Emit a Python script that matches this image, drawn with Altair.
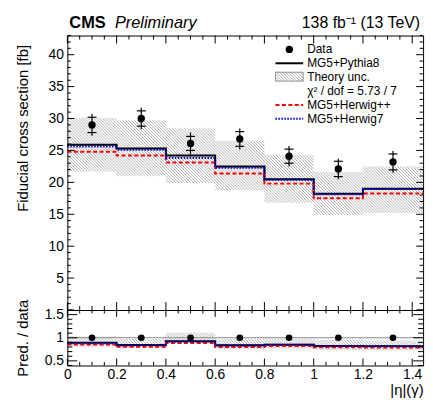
import altair as alt
import numpy as np
import pandas as pd

FONT = "Liberation Sans"

# photon |eta| binning and the positions of the data points
edges = [0.0, 0.2, 0.4, 0.6, 0.8, 1.0, 1.2, 1.4442]
centres = [0.1, 0.3, 0.5, 0.7, 0.9, 1.1, 1.322]

# measured fiducial cross section [fb] with statistical and total uncertainty
data_xs = [29.0, 30.0, 26.1, 26.8, 24.1, 22.1, 23.2]
data_stat = [1.2, 1.2, 1.1, 1.15, 1.1, 1.2, 1.25]
data_tot = [1.7, 1.7, 1.7, 1.65, 1.6, 1.6, 1.7]

# predictions [fb]
mg5_pythia8 = [25.9, 25.3, 24.2, 22.5, 20.5, 18.2, 19.0]
mg5_herwig7 = [25.6, 25.1, 23.8, 22.3, 20.4, 18.15, 18.95]
mg5_herwigpp = [24.8, 24.2, 23.1, 21.4, 19.8, 17.5, 18.25]

# theory uncertainty envelope of MG5+Pythia8 [fb]
theory_up = [30.1, 29.7, 28.5, 26.5, 24.3, 21.6, 22.5]
theory_down = [21.7, 21.0, 19.9, 18.8, 16.8, 14.9, 15.2]

# theory uncertainty envelope shown in the ratio panel
ratio_band_up = [1.03, 0.97, 1.11, 0.97, 0.98, 0.96, 0.94]
ratio_band_down = [0.80, 0.78, 0.90, 0.76, 0.77, 0.74, 0.73]

# axis labels
y_labels = [5, 10, 15, 20, 25, 30, 35, 40]
r_labels = [0.5, 1.0, 1.5]
x_labels = [0.0, 0.2, 0.4, 0.6, 0.8, 1.0, 1.2, 1.4]

# panel geometry
W, H_TOP, H_RAT = 359, 277, 56
X_MAX = edges[-1]
Y_MIN, Y_MAX = 0.0, 43.0
R_MIN, R_MAX = 0.4, 1.6

x_scale = alt.Scale(domain=[0, X_MAX], nice=False, zero=False)
y_scale = alt.Scale(domain=[Y_MIN, Y_MAX], nice=False, zero=False)
r_scale = alt.Scale(domain=[R_MIN, R_MAX], nice=False, zero=False)

label_style = dict(labelFont=FONT, labelFontSize=14, labelColor="black",
                   labelFlush=False, labelOverlap=False,
                   ticks=False, domain=False, grid=False)
title_style = dict(titleFont=FONT, titleFontSize=15, titleFontWeight="normal",
                   titleColor="black")

ax_x_top = None
ax_y_top = alt.Axis(values=y_labels, labelPadding=4,
                    title="Fiducial cross section [fb]", titleAngle=270,
                    titleAlign="right", titleBaseline="middle", titleX=-45, titleY=9,
                    **label_style, **title_style)
ax_x_rat = alt.Axis(values=x_labels, format="~g", labelPadding=2,
                    title="|η|(γ)", titleAlign="right", titleBaseline="top",
                    titleX=W, titleY=17, **label_style, **title_style)
ax_y_rat = alt.Axis(values=r_labels, format="~g", labelPadding=4,
                    title="Pred. / data", titleAngle=270, titleAlign="center",
                    titleBaseline="middle", titleX=-45, titleY=H_RAT / 2,
                    **label_style, **title_style)


def hatch_rect(x0, x1, y0, y1, step=3.0):
    """Diagonal ('\\') hatch segments inside a pixel rectangle, y growing down."""
    segs = []
    c = np.floor((y0 - x1) / step) * step
    while c <= y1 - x0:
        xa, xb = max(x0, y0 - c), min(x1, y1 - c)
        if xb > xa:
            segs.append((xa, xa + c, xb, xb + c))
        c += step
    return segs


def to_data(segs, vmin, vmax, height):
    sx = W / X_MAX
    sy = height / (vmax - vmin)
    return [dict(x=xa / sx, y=vmax - ya / sy, x2=xb / sx, y2=vmax - yb / sy)
            for xa, ya, xb, yb in segs]


def band_hatch(lo, hi, vmin, vmax, height):
    sx = W / X_MAX
    sy = height / (vmax - vmin)
    rows = []
    for i in range(len(lo)):
        segs = hatch_rect(edges[i] * sx, edges[i + 1] * sx,
                          (vmax - hi[i]) * sy, (vmax - lo[i]) * sy)
        rows += to_data(segs, vmin, vmax, height)
    return rows


def steps(vals):
    return pd.DataFrame({"x": edges, "v": list(vals) + [vals[-1]]})


def ex(field, axis):
    return alt.X(f"{field}:Q", scale=x_scale, axis=axis)


def tick_layers(xax, yax, ysc, height, x_major, x_minor, y_major, y_minor,
                xlen, ylen):
    layers = []
    x_sets = [(x_major, xlen), (x_minor, xlen / 2)]
    y_sets = [(y_major, ylen), (y_minor, ylen / 2)]
    for vals, ln in x_sets:
        df = pd.DataFrame({"v": vals})
        for a, b in [(0, ln), (height - ln, height)]:
            layers.append(alt.Chart(df).mark_rule(color="black", strokeWidth=1).encode(
                x=ex("v", xax), y=alt.value(a), y2=alt.value(b)))
    for vals, ln in y_sets:
        df = pd.DataFrame({"v": vals})
        for a, b in [(0, ln), (W - ln, W)]:
            layers.append(alt.Chart(df).mark_rule(color="black", strokeWidth=1).encode(
                y=alt.Y("v:Q", scale=ysc, axis=yax), x=alt.value(a), x2=alt.value(b)))
    return layers


x_major = np.round(np.arange(0, 1.41, 0.2), 2).tolist()
x_minor = [v for v in np.round(np.arange(0, 1.441, 0.05), 2).tolist() if v not in x_major]
y_major_t = list(range(0, 44, 5))
y_minor_t = [v for v in range(0, 44) if v % 5]
r_major_t = [0.5, 1.0, 1.5]
r_minor_t = [v for v in np.round(np.arange(0.4, 1.61, 0.1), 2).tolist() if v not in r_major_t]

# ---------------- upper panel ----------------
hatch_rows = band_hatch(theory_down, theory_up, Y_MIN, Y_MAX, H_TOP)
# legend swatch for the theory band
LX0, LX1, LT = 210, 238, 242
rows_y = [14, 28, 42, 56, 70, 84]
hatch_rows += to_data(hatch_rect(LX0, LX1, rows_y[2] - 5, rows_y[2] + 4),
                      Y_MIN, Y_MAX, H_TOP)
hatch_df = pd.DataFrame(hatch_rows)

hatch_top = alt.Chart(hatch_df).mark_rule(color="#8c8c8c", strokeWidth=0.7).encode(
    x=ex("x", ax_x_top), x2="x2:Q",
    y=alt.Y("y:Q", scale=y_scale, axis=ax_y_top), y2="y2:Q")


def step_line(vals, color, dash, ysc, yax, xax, width=2):
    props = dict(interpolate="step-after", color=color, strokeWidth=width)
    if dash:
        props["strokeDash"] = dash
    return alt.Chart(steps(vals)).mark_line(**props).encode(
        x=ex("x", xax), y=alt.Y("v:Q", scale=ysc, axis=yax))


RED_DASH = [4, 2.5]
BLUE_DOT = [1.5, 1.5]

pythia_top = step_line(mg5_pythia8, "black", None, y_scale, ax_y_top, ax_x_top)
herpp_top = step_line(mg5_herwigpp, "#ff0000", RED_DASH, y_scale, ax_y_top, ax_x_top)
her7_top = step_line(mg5_herwig7, "#0000cc", BLUE_DOT, y_scale, ax_y_top, ax_x_top)

data_df = pd.DataFrame({
    "c": centres, "v": data_xs,
    "tlo": [v - e for v, e in zip(data_xs, data_tot)],
    "thi": [v + e for v, e in zip(data_xs, data_tot)],
})
stat_df = pd.DataFrame({
    "c": centres * 2,
    "v": [v - e for v, e in zip(data_xs, data_stat)] + [v + e for v, e in zip(data_xs, data_stat)],
})
err_vert = alt.Chart(data_df).mark_rule(color="black", strokeWidth=1.2).encode(
    x=ex("c", ax_x_top), y=alt.Y("tlo:Q", scale=y_scale, axis=ax_y_top), y2="thi:Q")
err_tick = alt.Chart(stat_df).mark_rule(color="black", strokeWidth=1.2,
                                        xOffset=-4.5, x2Offset=4.5).encode(
    x=ex("c", ax_x_top), x2="c:Q", y=alt.Y("v:Q", scale=y_scale, axis=ax_y_top))
pts_top = alt.Chart(data_df).mark_circle(size=55, color="black", opacity=1).encode(
    x=ex("c", ax_x_top), y=alt.Y("v:Q", scale=y_scale, axis=ax_y_top))

# legend
anchor = pd.DataFrame({"a": [0]})


def legend_text(text, y):
    return alt.Chart(anchor).mark_text(text=text, font=FONT, fontSize=12, align="left",
                                       baseline="middle", color="black").encode(
        x=alt.value(LT), y=alt.value(y))


def legend_line(y, color, dash):
    props = dict(color=color, strokeWidth=2)
    if dash:
        props["strokeDash"] = dash
    return alt.Chart(anchor).mark_rule(**props).encode(
        x=alt.value(LX0), x2=alt.value(LX1), y=alt.value(y))


legend = [
    alt.Chart(anchor).mark_circle(size=55, color="black", opacity=1).encode(
        x=alt.value((LX0 + LX1) / 2), y=alt.value(rows_y[0])),
    legend_text("Data", rows_y[0]),
    legend_line(rows_y[1], "black", None),
    legend_text("MG5+Pythia8", rows_y[1]),
    alt.Chart(anchor).mark_rect(fillOpacity=0, stroke="#777777", strokeWidth=0.8).encode(
        x=alt.value(LX0), x2=alt.value(LX1), y=alt.value(rows_y[2] - 5),
        y2=alt.value(rows_y[2] + 4)),
    legend_text("Theory unc.", rows_y[2]),
    legend_text("χ² / dof = 5.73 / 7", rows_y[3]),
    legend_line(rows_y[4], "#ff0000", RED_DASH),
    legend_text("MG5+Herwig++", rows_y[4]),
    legend_line(rows_y[5], "#0000cc", BLUE_DOT),
    legend_text("MG5+Herwig7", rows_y[5]),
]

header = [
    alt.Chart(anchor).mark_text(text="CMS", font=FONT, fontSize=16.5, fontWeight="bold",
                                align="left", baseline="alphabetic", color="black").encode(
        x=alt.value(2), y=alt.value(-8)),
    alt.Chart(anchor).mark_text(text="Preliminary", font=FONT, fontSize=16.5,
                                fontStyle="italic", align="left", baseline="alphabetic",
                                color="black").encode(x=alt.value(48), y=alt.value(-8)),
    alt.Chart(anchor).mark_text(text="138 fb⁻¹ (13 TeV)", font=FONT, fontSize=16,
                                align="right", baseline="alphabetic", color="black").encode(
        x=alt.value(W - 3), y=alt.value(-8)),
]

top_ticks = tick_layers(ax_x_top, ax_y_top, y_scale, H_TOP, x_major, x_minor,
                        y_major_t, y_minor_t, 8, 7)

top = alt.layer(hatch_top, pythia_top, herpp_top, her7_top, err_vert, err_tick, pts_top,
                *top_ticks, *legend, *header).properties(width=W, height=H_TOP)

# ---------------- ratio panel ----------------
ratio_hatch = pd.DataFrame(band_hatch(ratio_band_down, ratio_band_up, R_MIN, R_MAX, H_RAT))
hatch_rat = alt.Chart(ratio_hatch).mark_rule(color="#8c8c8c", strokeWidth=0.7).encode(
    x=ex("x", ax_x_rat), x2="x2:Q",
    y=alt.Y("y:Q", scale=r_scale, axis=ax_y_rat), y2="y2:Q")

unity = alt.Chart(anchor).mark_rule(color="#888888", strokeWidth=1).encode(
    y=alt.Y("one:Q", scale=r_scale, axis=ax_y_rat), x=alt.value(0), x2=alt.value(W)
).transform_calculate(one="1")

pythia_r = step_line([p / d for p, d in zip(mg5_pythia8, data_xs)], "black", None,
                     r_scale, ax_y_rat, ax_x_rat)
herpp_r = step_line([p / d for p, d in zip(mg5_herwigpp, data_xs)], "#ff0000", RED_DASH,
                    r_scale, ax_y_rat, ax_x_rat)
her7_r = step_line([p / d for p, d in zip(mg5_herwig7, data_xs)], "#0000cc", BLUE_DOT,
                   r_scale, ax_y_rat, ax_x_rat)

ratio_pts = pd.DataFrame({"c": centres, "r": [d / d for d in data_xs]})
pts_rat = alt.Chart(ratio_pts).mark_circle(size=45, color="black", opacity=1).encode(
    x=ex("c", ax_x_rat), y=alt.Y("r:Q", scale=r_scale, axis=ax_y_rat))

rat_ticks = tick_layers(ax_x_rat, ax_y_rat, r_scale, H_RAT, x_major, x_minor,
                        r_major_t, r_minor_t, 7, 10)

ratio = alt.layer(hatch_rat, unity, pythia_r, herpp_r, her7_r, pts_rat,
                  *rat_ticks).properties(width=W, height=H_RAT)

# panels stacked flush: layout uses the view boxes only, so the ratio title
# sticking out above its panel does not open a gap
chart = alt.vconcat(top, ratio, spacing=0, bounds="flush").configure_view(
    stroke="black", strokeWidth=1
).properties(padding={"left": 15, "top": 12, "right": 5, "bottom": 5})

chart.save("out.html", embed_options={"renderer": "svg", "actions": False})
